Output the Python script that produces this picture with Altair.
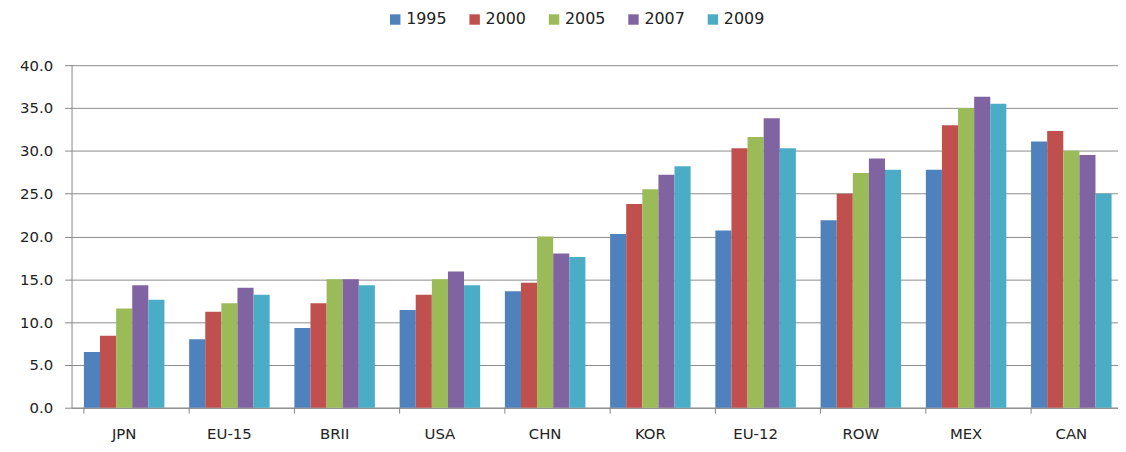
import altair as alt
import pandas as pd

categories = ["JPN", "EU-15", "BRII", "USA", "CHN", "KOR", "EU-12", "ROW", "MEX", "CAN"]
years = ["1995", "2000", "2005", "2007", "2009"]
v1995 = [6.5, 8.0, 9.3, 11.4, 13.6, 20.3, 20.7, 21.9, 27.8, 31.1]
v2000 = [8.4, 11.2, 12.2, 13.2, 14.6, 23.8, 30.3, 25.0, 33.0, 32.3]
v2005 = [11.6, 12.2, 15.0, 15.0, 20.0, 25.5, 31.6, 27.4, 35.0, 30.0]
v2007 = [14.3, 14.0, 15.0, 15.9, 18.0, 27.2, 33.8, 29.1, 36.3, 29.5]
v2009 = [12.6, 13.2, 14.3, 14.3, 17.6, 28.2, 30.3, 27.8, 35.5, 25.0]
colors = ["#4F81BD", "#C0504D", "#9BBB59", "#8064A2", "#4BACC6"]

series = [v1995, v2000, v2005, v2007, v2009]
rows = []
for y, vals in zip(years, series):
    for c, v in zip(categories, vals):
        rows.append({"cat": c, "year": y, "value": v})
df = pd.DataFrame(rows)
cats_df = pd.DataFrame({"cat": categories})

FONT = "DejaVu Sans"
xscale = alt.Scale(domain=categories, range=[0, 1060], paddingInner=0.235, paddingOuter=0.1175)

bars = alt.Chart(df).mark_bar().encode(
    x=alt.X("cat:N", scale=xscale, sort=categories,
            axis=alt.Axis(title=None, labelAngle=0, ticks=False, labelPadding=19,
                          domainColor="#868686", labelFont=FONT, labelFontSize=15,
                          labelColor="#222222", grid=False)),
    xOffset=alt.XOffset("year:N", sort=years, scale=alt.Scale(paddingInner=0, paddingOuter=0)),
    y=alt.Y("value:Q", scale=alt.Scale(domain=[0, 40], nice=False),
            axis=alt.Axis(title=None, values=[0, 5, 10, 15, 20, 25, 30, 35, 40], format=".1f",
                          tickSize=7, tickColor="#868686", domainColor="#868686",
                          gridColor="#8c8c8c", gridWidth=1, labelPadding=12,
                          labelFont=FONT, labelFontSize=15, labelColor="#222222")),
    color=alt.Color("year:N", sort=years, scale=alt.Scale(domain=years, range=colors),
                    legend=alt.Legend(title=None, orient="none", legendX=318, legendY=-54,
                                      direction="horizontal", symbolType="square",
                                      symbolSize=110, symbolStrokeWidth=0,
                                      labelFont=FONT, labelFontSize=16, labelColor="#222222",
                                      columnPadding=20, labelOffset=3)),
)

ticks = alt.Chart(cats_df).mark_rule(color="#868686").encode(
    x=alt.X("cat:N", scale=xscale, sort=categories, bandPosition=0),
    y=alt.value(345),
    y2=alt.value(351),
)

chart = alt.layer(bars, ticks).properties(
    width=1054, height=345,
    padding={"left": 64, "top": 56, "right": 0, "bottom": 42},
    autosize=alt.AutoSizeParams(type="none"),
).configure(background="white", view=alt.ViewConfig(stroke=None))

chart.save("out.html", embed_options={"renderer": "svg", "actions": False})
